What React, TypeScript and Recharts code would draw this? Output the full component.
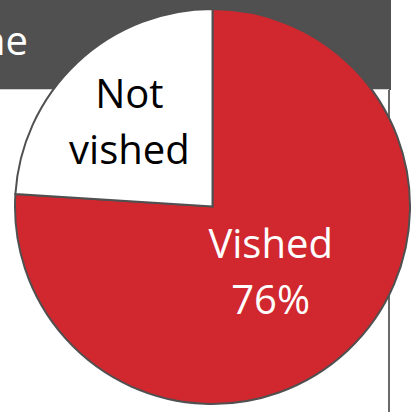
import React from "react";
import { PieChart, Pie, Cell } from "recharts";

const categories = ["Vished", "Not vished"];
const values = [76, 24];
const sliceColors = ["#D1272F", "#FFFFFF"];
const labelColors = ["#FFFFFF", "#000000"];
const labelLines = [["Vished", "{p}"], ["Not", "vished"]];
const headerText = "ne";

const data = categories.map((name, i) => ({ name, value: values[i] }));

const RAD = Math.PI / 180;
const FONT = "'Open Sans', sans-serif";

const renderLabel = (props: any) => {
  const { cx, cy, midAngle, outerRadius, index, percent } = props;
  const ratio = index === 0 ? 0.43 : 0.615;
  const r = outerRadius * ratio;
  const x = cx + r * Math.cos(-midAngle * RAD);
  const y = cy + r * Math.sin(-midAngle * RAD);
  const lines = labelLines[index].map((l) =>
    l.replace("{p}", `${Math.round(percent * 100)}%`)
  );
  return (
    <text
      x={x}
      y={y - 10}
      fill={labelColors[index]}
      textAnchor="middle"
      fontFamily={FONT}
      fontSize={40}
    >
      <tspan x={x} dy={0}>{lines[0]}</tspan>
      <tspan x={x} dy={56}>{lines[1]}</tspan>
    </text>
  );
};

export default function App() {
  return (
    <div style={{ position: "absolute", left: 0, top: 0, width: 411, height: 412, background: "#fff", overflow: "hidden" }}>
      <div style={{ position: "absolute", left: 0, top: 0, width: 391, height: 90, background: "#505050" }} />
      <div style={{ position: "absolute", left: 0, top: 89, width: 389, height: 1, background: "#d0d0d0" }} />
      <div style={{ position: "absolute", left: 388, top: 90, width: 2, height: 322, background: "#6a6a6a" }} />
      <div
        style={{
          position: "absolute",
          right: 411 - 28,
          top: 13,
          color: "#fff",
          fontFamily: FONT,
          fontSize: 40,
          lineHeight: "54px",
          whiteSpace: "nowrap",
        }}
      >
        {headerText}
      </div>
      <div style={{ position: "absolute", left: 0, top: 0 }}>
        <PieChart width={411} height={412} margin={{ top: 0, right: 0, bottom: 0, left: 0 }}>
          <Pie
            data={data}
            dataKey="value"
            nameKey="name"
            cx={212.5}
            cy={206.5}
            outerRadius={197.5}
            innerRadius={0}
            startAngle={90}
            endAngle={-270}
            stroke="#505050"
            strokeWidth={2}
            label={renderLabel}
            labelLine={false}
            isAnimationActive={false}
          >
            {data.map((d, i) => (
              <Cell key={d.name} fill={sliceColors[i]} />
            ))}
          </Pie>
        </PieChart>
      </div>
    </div>
  );
}
